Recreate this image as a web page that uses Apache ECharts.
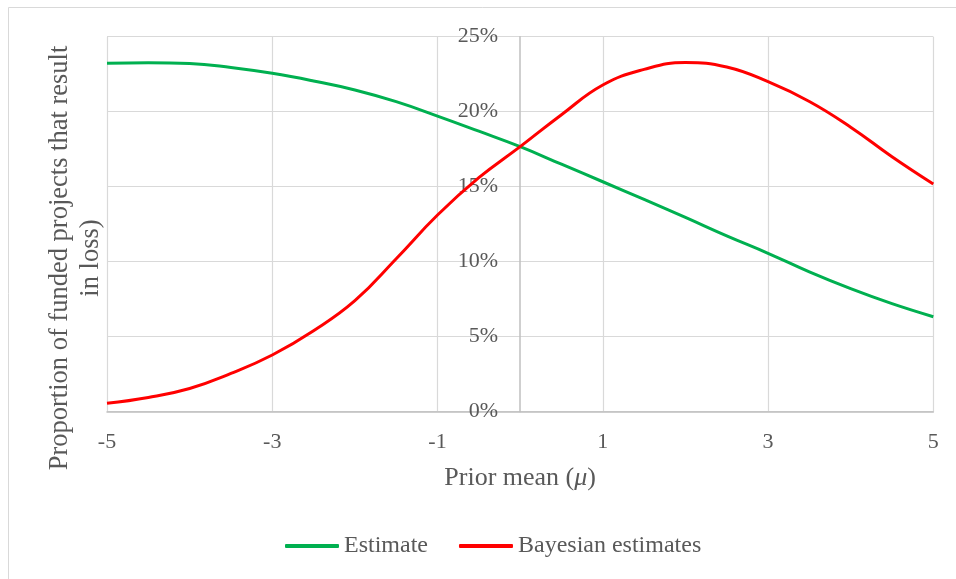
<!DOCTYPE html>
<html>
<head>
<meta charset="utf-8">
<script src="https://cdn.jsdelivr.net/npm/echarts@6/dist/echarts.min.js"></script>
<style>
html,body{margin:0;padding:0;background:#fff;}
#chart{width:956px;height:579px;}
</style>
</head>
<body>
<div id="chart"></div>
<script>
const xValues = [-5, -4.5, -4, -3.5, -3, -2.5, -2, -1.5, -1, -0.5, 0, 0.5, 1, 1.5, 2, 2.5, 3, 3.5, 4, 4.5, 5];
const estimate = [23.23, 23.27, 23.22, 22.95, 22.56, 22.05, 21.45, 20.67, 19.71, 18.7, 17.67, 16.5, 15.33, 14.15, 12.95, 11.72, 10.56, 9.32, 8.2, 7.2, 6.33];
const bayesian = [0.56, 0.95, 1.55, 2.55, 3.78, 5.4, 7.4, 10.2, 13.11, 15.6, 17.67, 19.8, 21.78, 22.82, 23.28, 22.98, 22.0, 20.68, 18.97, 17.0, 15.18];
const xTickValues = [-5, -3, -1, 1, 3, 5];
const seriesNames = ['Estimate', 'Bayesian estimates'];
const xTitle = 'Prior mean ({i|μ})';
const yTitle = 'Proportion of funded projects that result\nin loss)';

const FONT = "'Liberation Serif', 'Times New Roman', serif";
const TXT = '#595959';
const GRID_LEFT = 107, GRID_WIDTH = 826.3;

const chart = echarts.init(document.getElementById('chart'));
chart.setOption({
  animation: false,
  backgroundColor: '#fff',
  grid: { left: GRID_LEFT, width: GRID_WIDTH, top: 36.7, height: 375 },
  legend: {
    left: 285, top: 534, padding: 0,
    icon: 'roundRect',
    itemWidth: 54, itemHeight: 4, itemGap: 31,
    textStyle: { fontFamily: FONT, fontSize: 24, color: TXT },
    data: seriesNames
  },
  xAxis: {
    type: 'value', min: -5, max: 5,
    name: xTitle, nameLocation: 'middle', nameGap: 53,
    nameTextStyle: { fontFamily: FONT, fontSize: 26, color: TXT,
      rich: { i: { fontFamily: FONT, fontSize: 26, color: TXT, fontStyle: 'italic' } } },
    axisLine: { show: true, lineStyle: { color: '#bfbfbf', width: 1.5 } },
    axisTick: { show: false, customValues: xTickValues },
    axisLabel: { customValues: xTickValues, fontFamily: FONT, fontSize: 22, color: TXT, margin: 20 },
    splitLine: { show: true, lineStyle: { color: '#d9d9d9', width: 1.2 } }
  },
  yAxis: {
    type: 'value', min: 0, max: 25, interval: 5,
    position: 'left', offset: -GRID_WIDTH / 2,
    axisLine: { show: true, onZero: false, lineStyle: { color: '#bfbfbf', width: 1.5 } },
    axisTick: { show: false },
    axisLabel: { formatter: '{value}%', fontFamily: FONT, fontSize: 22, color: TXT, margin: 22 },
    splitLine: { show: true, lineStyle: { color: '#d9d9d9', width: 1.2 } }
  },
  graphic: [
    { type: 'rect', shape: { x: 8.5, y: 7.5, width: 1000, height: 700 },
      style: { fill: 'none', stroke: '#d9d9d9', lineWidth: 1 }, silent: true, z: -10 },
    { type: 'text', x: 76, y: 258, rotation: Math.PI / 2,
      style: { text: yTitle, font: "26.5px 'Liberation Serif', 'Times New Roman', serif",
        fill: TXT, align: 'center', verticalAlign: 'middle', lineHeight: 31 } }
  ],
  series: [
    { name: seriesNames[0], type: 'line', smooth: 0.45, symbol: 'none',
      lineStyle: { color: '#00b050', width: 3 }, itemStyle: { color: '#00b050' },
      data: xValues.map((x, i) => [x, estimate[i]]) },
    { name: seriesNames[1], type: 'line', smooth: 0.45, symbol: 'none',
      lineStyle: { color: '#ff0000', width: 3 }, itemStyle: { color: '#ff0000' },
      data: xValues.map((x, i) => [x, bayesian[i]]) }
  ]
});
</script>
</body>
</html>
